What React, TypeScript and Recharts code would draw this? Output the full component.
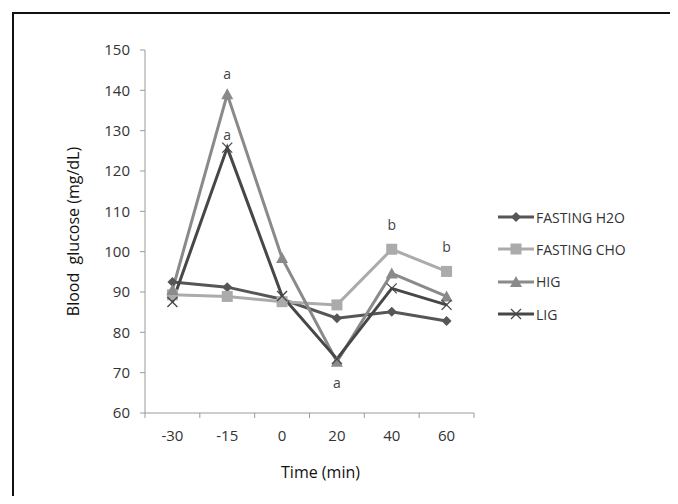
import { LineChart, Line, XAxis, YAxis, LabelList } from 'recharts';

// time points (min)
const times = ['-30', '-15', '0', '20', '40', '60'];

// blood glucose (mg/dL)
const fastingH2O = [92.5, 91.2, 88.2, 83.5, 85.1, 82.8];
const fastingCHO = [89.3, 88.9, 87.6, 86.8, 100.6, 95.1];
const hig = [90.5, 139, 98.4, 72.7, 94.6, 88.9];
const lig = [87.5, 125.8, 89, 73.4, 90.9, 86.8];

// significance letters
const higMarks = ['', 'a', '', 'a', '', ''];
const ligMarks = ['', 'a', '', '', '', ''];
const choMarks = ['', '', '', '', 'b', 'b'];

const yTicks = [60, 70, 80, 90, 100, 110, 120, 130, 140, 150];

const seriesNames = ['FASTING H2O', 'FASTING CHO', 'HIG', 'LIG'];
const seriesColors = ['#565656', '#ababab', '#8a8a8a', '#474747'];
const seriesKeys = ['h2o', 'cho', 'hig', 'lig'];

const chartData = times.map((t, i) => ({
  time: t,
  h2o: fastingH2O[i],
  cho: fastingCHO[i],
  hig: hig[i],
  lig: lig[i],
  higMark: higMarks[i],
  ligMark: ligMarks[i],
  choMark: choMarks[i],
}));

const FONT = '"Open Sans", "DejaVu Sans", sans-serif';
const AXIS = '#9a9a9a';
const PLOT_W = 329;

function Marker({ kind, cx, cy, color }: any) {
  if (cx == null || cy == null) return null;
  if (kind === 'diamond') {
    return <path d={`M${cx},${cy - 5}L${cx + 5},${cy}L${cx},${cy + 5}L${cx - 5},${cy}Z`} fill={color} />;
  }
  if (kind === 'square') {
    return <rect x={cx - 5.5} y={cy - 5.5} width={11} height={11} fill={color} />;
  }
  if (kind === 'triangle') {
    return <path d={`M${cx},${cy - 6}L${cx + 6},${cy + 5}L${cx - 6},${cy + 5}Z`} fill={color} />;
  }
  return (
    <g stroke={color} strokeWidth={1.3}>
      <line x1={cx - 5} y1={cy - 5} x2={cx + 5} y2={cy + 5} />
      <line x1={cx - 5} y1={cy + 5} x2={cx + 5} y2={cy - 5} />
    </g>
  );
}

const markerKinds = ['diamond', 'square', 'triangle', 'cross'];

const makeLetter = (dy: number) => (props: any) => {
  const { x, y, value } = props;
  if (!value) return null;
  return (
    <text x={x} y={y + dy} textAnchor="middle" fontSize={14} fill="#444" fontFamily={FONT}>
      {value}
    </text>
  );
};

// tick marks sit between categories, labels at category centres
function TimeTick({ x, y, payload, index }: any) {
  const half = PLOT_W / times.length / 2;
  const top = y - 10;
  return (
    <g>
      <line x1={x - half} y1={top} x2={x - half} y2={top + 5} stroke={AXIS} />
      {index === times.length - 1 && <line x1={x + half} y1={top} x2={x + half} y2={top + 5} stroke={AXIS} />}
      <text x={x} y={top + 28} textAnchor="middle" fontSize={15} fill="#333" fontFamily={FONT}>
        {payload.value}
      </text>
    </g>
  );
}

function YLabel({ viewBox }: any) {
  const cx = 75;
  const cy = viewBox.y + viewBox.height / 2;
  return (
    <text
      x={cx}
      y={cy}
      transform={`rotate(-90 ${cx} ${cy})`}
      textAnchor="middle"
      dominantBaseline="middle"
      fontSize={16}
      fill="#111"
      fontFamily={FONT}
      style={{ whiteSpace: 'pre' }}
    >
      {'Blood  glucose (mg/dL)'}
    </text>
  );
}

function LegendBox() {
  return (
    <div style={{ position: 'absolute', left: 498, top: 201, fontFamily: FONT, fontSize: 14, color: '#333' }}>
      {seriesNames.map((name, i) => (
        <div key={name} style={{ display: 'flex', alignItems: 'center', height: 32.3 }}>
          <svg width={36} height={14}>
            <line x1={0} y1={7} x2={36} y2={7} stroke={seriesColors[i]} strokeWidth={3} />
            <Marker kind={markerKinds[i]} cx={18} cy={7} color={seriesColors[i]} />
          </svg>
          <span style={{ marginLeft: 2 }}>{name}</span>
        </div>
      ))}
    </div>
  );
}

export default function App() {
  return (
    <div style={{ position: 'relative', width: 678, height: 504, overflow: 'hidden', margin: -8, background: '#fff' }}>
      <div style={{ position: 'absolute', left: 12, top: 12, width: 800, height: 800, borderLeft: '2px solid #111', borderTop: '2px solid #111' }} />
      <div style={{ position: 'absolute', left: 0, top: 0 }}>
        <LineChart width={678} height={504} data={chartData} margin={{ top: 50, right: 204, bottom: 61, left: 85 }}>
          <XAxis
            dataKey="time"
            scale="band"
            stroke={AXIS}
            tickLine={false}
            tick={<TimeTick />}
            tickSize={0}
            tickMargin={10}
            height={30}
            interval={0}
            label={{ value: 'Time (min)', position: 'insideBottom', offset: -35, dx: 11, fill: '#111', fontSize: 16, fontFamily: FONT }}
          />
          <YAxis
            domain={[60, 150]}
            ticks={yTicks}
            interval={0}
            stroke={AXIS}
            tickLine={{ stroke: AXIS }}
            tick={{ fill: '#333', fontSize: 15, fontFamily: FONT }}
            tickSize={5}
            tickMargin={10}
            width={60}
            label={<YLabel />}
          />
          {seriesKeys.map((key, i) => (
            <Line
              key={key}
              dataKey={key}
              name={seriesNames[i]}
              type="linear"
              stroke={seriesColors[i]}
              strokeWidth={3}
              dot={(p: any) => <Marker key={`${key}-${p.index}`} kind={markerKinds[i]} cx={p.cx} cy={p.cy} color={seriesColors[i]} />}
              activeDot={false}
              isAnimationActive={false}
            >
              {key === 'hig' && <LabelList dataKey="higMark" content={(p: any) => (p.index === 3 ? makeLetter(26)(p) : makeLetter(-15)(p))} />}
              {key === 'lig' && <LabelList dataKey="ligMark" content={makeLetter(-8)} />}
              {key === 'cho' && <LabelList dataKey="choMark" content={makeLetter(-19)} />}
            </Line>
          ))}
        </LineChart>
      </div>
      <LegendBox />
    </div>
  );
}
